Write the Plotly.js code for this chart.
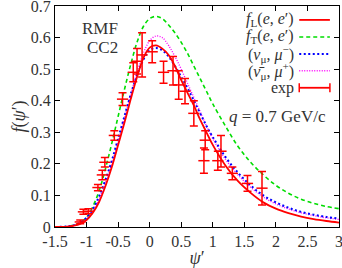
<!DOCTYPE html>
<html><head><meta charset="utf-8">
<script src="https://cdn.plot.ly/plotly-3.0.1.min.js"></script>
<style>html,body{margin:0;padding:0;background:#fff}#chart{width:342px;height:268px}</style>
</head><body><div id="chart"></div>
<script>
// Theory curves sampled on a psi' grid
const psiGrid = [-1.5,-1.3,-1.2,-1.1,-1.0,-0.9,-0.8,-0.7,-0.6,-0.5,-0.4,-0.3,-0.2,-0.1,0,0.1,0.2,0.3,0.4,0.5,0.6,0.7,0.8,0.9,1.0,1.2,1.4,1.6,1.8,2.0,2.2,2.4,2.6,2.8,3.0];
const fL   = [0,0.001,0.004,0.010,0.022,0.045,0.080,0.130,0.190,0.260,0.330,0.405,0.475,0.535,0.568,0.575,0.565,0.545,0.510,0.465,0.425,0.385,0.340,0.300,0.260,0.195,0.145,0.108,0.078,0.058,0.044,0.033,0.025,0.019,0.014];
const fT   = [0,0.002,0.006,0.013,0.030,0.065,0.115,0.185,0.265,0.350,0.435,0.515,0.585,0.635,0.660,0.667,0.660,0.640,0.615,0.585,0.550,0.510,0.470,0.430,0.390,0.320,0.255,0.205,0.165,0.132,0.107,0.088,0.075,0.065,0.058];
const fNu  = [0,0.002,0.006,0.014,0.030,0.057,0.098,0.150,0.210,0.280,0.350,0.420,0.480,0.530,0.560,0.567,0.560,0.540,0.510,0.475,0.440,0.400,0.360,0.320,0.285,0.222,0.172,0.132,0.100,0.078,0.061,0.048,0.039,0.032,0.027];
const fNuBar = [0,0.002,0.005,0.012,0.027,0.052,0.090,0.140,0.200,0.270,0.345,0.420,0.490,0.550,0.590,0.605,0.600,0.575,0.540,0.500,0.455,0.410,0.365,0.320,0.280,0.215,0.165,0.126,0.095,0.073,0.057,0.045,0.036,0.029,0.024];

// Experimental data
const expPsi = [-1.10,-1.05,-0.97,-0.82,-0.75,-0.71,-0.56,-0.43,-0.26,-0.20,-0.12,0.04,0.22,0.37,0.46,0.56,0.70,0.88,0.86,1.08,1.13,1.31,1.55,1.78];
const expF   = [0.016,0.048,0.050,0.125,0.165,0.205,0.290,0.405,0.490,0.525,0.545,0.555,0.490,0.495,0.450,0.430,0.360,0.275,0.210,0.210,0.240,0.170,0.138,0.123];
const expErr = [0.006,0.008,0.008,0.010,0.015,0.015,0.015,0.020,0.030,0.040,0.070,0.035,0.035,0.045,0.045,0.040,0.040,0.030,0.040,0.030,0.050,0.020,0.025,0.053];

const xTickVals = [-1.5,-1,-0.5,0,0.5,1,1.5,2,2.5,3];
const xTickText = ["-1.5","-1","-0.5","0","0.5","1","1.5","2","2.5","3"];
const yTickVals = [0,0.1,0.2,0.3,0.4,0.5,0.6,0.7];
const yTickText = ["0","0.1","0.2","0.3","0.4","0.5","0.6","0.7"];

const legendLabels = ["<i>f</i><sub>L</sub>(<i>e</i>, <i>e</i>′)","<i>f</i><sub>T</sub>(<i>e</i>, <i>e</i>′)","(<i>ν</i><sub>μ</sub>, <i>μ</i><sup>−</sup>)","(<i>ν̄</i><sub>μ</sub>, <i>μ</i><sup>+</sup>)","exp"];

const FONT = "Liberation Serif";
const RED = "#ff0000", GREEN = "#00dd00", BLUE = "#0000ff", MAG = "#ff00ff";
const TXT = "#333";

const traces = [
  {x: psiGrid, y: fT, mode: "lines", line: {color: GREEN, width: 1.6, dash: "4px,3px", shape: "spline"}},
  {x: psiGrid, y: fNuBar, mode: "lines", line: {color: MAG, width: 1.4, dash: "1px,1.5px", shape: "spline"}},
  {x: psiGrid, y: fNu, mode: "lines", line: {color: BLUE, width: 2, dash: "2px,2.5px", shape: "spline"}},
  {x: psiGrid, y: fL, mode: "lines", line: {color: RED, width: 1.8, shape: "spline"}},
  {x: expPsi, y: expF, mode: "markers",
   marker: {symbol: "line-ew", size: 8, color: RED, line: {color: RED, width: 1.5}},
   error_y: {type: "data", array: expErr, visible: true, color: RED, thickness: 1.5, width: 4}}
];

// legend geometry (paper coords)
const legY = [0.937, 0.860, 0.783, 0.707, 0.630];
const legColors = [RED, GREEN, BLUE, MAG, RED];
const legDash = ["solid", "4px,3px", "2px,2.5px", "1px,1.5px", "solid"];
const legWidth = [1.8, 1.6, 2, 1.4, 1.8];
const shapes = [];
const annotations = [];
for (let i = 0; i < legY.length; i++) {
  shapes.push({type: "line", xref: "paper", yref: "paper", x0: 0.86, x1: 0.968, y0: legY[i], y1: legY[i],
    line: {color: legColors[i], width: legWidth[i], dash: legDash[i]}});
  annotations.push({xref: "paper", yref: "paper", x: 0.85, y: legY[i], xanchor: "right", yanchor: "middle",
    text: legendLabels[i], showarrow: false, font: {family: FONT, size: 16, color: TXT}});
}
// error-bar ticks on exp legend sample
[0.86, 0.968].forEach(xx => shapes.push({type: "line", xref: "paper", yref: "paper", x0: xx, x1: xx,
  y0: legY[4] - 0.02, y1: legY[4] + 0.02, line: {color: RED, width: 1.5}}));

annotations.push({xref: "paper", yref: "paper", x: 0.158, y: 0.898, xanchor: "center", yanchor: "middle",
  text: "RMF", showarrow: false, font: {family: FONT, size: 17, color: TXT}});
annotations.push({xref: "paper", yref: "paper", x: 0.169, y: 0.814, xanchor: "center", yanchor: "middle",
  text: "CC2", showarrow: false, font: {family: FONT, size: 17, color: TXT}});
annotations.push({xref: "paper", yref: "paper", x: 0.96, y: 0.502, xanchor: "right", yanchor: "middle",
  text: "<i>q</i> = 0.7 GeV/c", showarrow: false, font: {family: FONT, size: 17, color: TXT}});

const layout = {
  width: 342, height: 268,
  margin: {l: 55, r: 3, t: 6, b: 41},
  paper_bgcolor: "#fff", plot_bgcolor: "#fff",
  showlegend: false,
  font: {family: FONT, size: 16, color: TXT},
  xaxis: {range: [-1.5, 3], tickvals: xTickVals, ticktext: xTickText, ticks: "inside", ticklen: 5,
    tickcolor: "#000", showline: true, linecolor: "#000", linewidth: 1, mirror: "allticks",
    showgrid: false, zeroline: false, ticklabeloverflow: "allow", tickfont: {family: FONT, size: 16, color: TXT},
    title: {text: "<i>ψ</i>′", font: {family: FONT, size: 18, color: TXT}, standoff: 0}},
  yaxis: {range: [0, 0.7], tickvals: yTickVals, ticktext: yTickText, ticks: "inside", ticklen: 5,
    tickcolor: "#000", showline: true, linecolor: "#000", linewidth: 1, mirror: "allticks",
    showgrid: false, zeroline: false, ticklabeloverflow: "allow", tickfont: {family: FONT, size: 16, color: TXT},
    title: {text: "<i>f</i>(<i>ψ</i>′)", font: {family: FONT, size: 18, color: TXT}, standoff: 0}},
  shapes: shapes, annotations: annotations
};

Plotly.newPlot("chart", traces, layout, {displayModeBar: false, staticPlot: true});
</script></body></html>
